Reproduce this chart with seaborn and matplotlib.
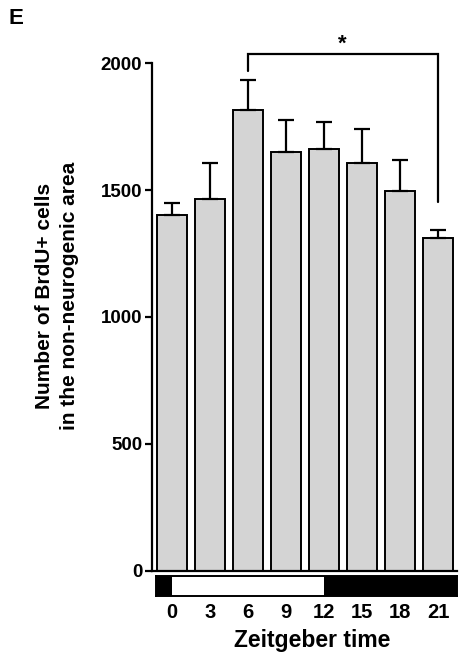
import matplotlib
matplotlib.use("Agg")
import matplotlib.pyplot as plt
import seaborn as sns
import numpy as np
import pandas as pd

# Zeitgeber time points and BrdU+ counts (mean and upper SEM)
zt_labels = ["0", "3", "6", "9", "12", "15", "18", "21"]
mean_cells = [1400, 1465, 1815, 1652, 1662, 1607, 1496, 1313]
sem_cells = [50, 142, 121, 125, 108, 132, 121, 30]

# significance bracket between ZT6 and ZT21
bracket_pair = (2, 7)
bracket_label = "*"

# light/dark schedule shown under the axis (in bar index units)
dark_before = (-0.43, 0.0)
light_phase = (0.0, 4.0)
dark_after = (4.0, 7.5)

sns.set_style("ticks")
plt.rcParams["font.family"] = ["Liberation Sans", "DejaVu Sans"]
plt.rcParams["font.weight"] = "bold"
for key in ["text.color", "axes.labelcolor", "xtick.color", "ytick.color",
            "axes.edgecolor"]:
    plt.rcParams[key] = "black"

W, H = 459, 655
fig = plt.figure(figsize=(W / 100, H / 100), dpi=100)

ax = fig.add_axes([152 / W, 84.5 / H, (457 - 152) / W, (570.5 - 63.3) / H])

df = pd.DataFrame({"zt": zt_labels, "cells": mean_cells})
sns.barplot(data=df, x="zt", y="cells", order=zt_labels, color="#d4d4d4",
            saturation=1, edgecolor="black", linewidth=1.4, errorbar=None,
            width=0.8, ax=ax)

ax.errorbar(np.arange(len(zt_labels)), mean_cells,
            yerr=[np.zeros(len(sem_cells)), sem_cells], fmt="none",
            ecolor="black", elinewidth=1.6, capsize=6, capthick=1.6, zorder=3)

ax.set_xlim(-0.526, 7.5)
ax.set_ylim(0, 2000)
ax.set_yticks([0, 500, 1000, 1500, 2000])
ax.set_xticks([])
ax.set_xlabel("")
ax.set_ylabel("")
for s in ["top", "right"]:
    ax.spines[s].set_visible(False)
for s in ["left", "bottom"]:
    ax.spines[s].set_linewidth(1.6)
    ax.spines[s].set_color("black")
ax.tick_params(axis="y", direction="out", length=5, width=1.6, pad=2,
               labelsize=13.5, colors="black")
for lab in ax.get_yticklabels():
    lab.set_fontweight("bold")

# significance bracket
x0, x1 = bracket_pair
ax.plot([x0, x0, x1, x1], [1968, 2036, 2036, 1455], color="black", lw=1.6,
        clip_on=False, solid_joinstyle="miter")
ax.text((x0 + x1) / 2 - 0.03, 2076, bracket_label, ha="center", va="center",
        fontsize=16, fontweight="bold", clip_on=False)

# light/dark bar
ax2 = fig.add_axes([155.7 / W, (H - 596) / H, (457 - 155.7) / W, 20 / H])
ax2.set_xlim(dark_before[0], dark_after[1])
ax2.set_ylim(0, 1)
ax2.axvspan(*dark_before, color="black", lw=0)
ax2.axvspan(*light_phase, color="white", lw=0)
ax2.axvspan(*dark_after, color="black", lw=0)
for s in ax2.spines.values():
    s.set_visible(True)
    s.set_linewidth(1.4)
    s.set_color("black")
ax2.set_yticks([])
ax2.set_xticks(np.arange(len(zt_labels)))
ax2.set_xticklabels(zt_labels, fontsize=14.5, fontweight="bold")
ax2.tick_params(axis="x", length=0, pad=5, colors="black")

fig.text(312.5 / W, 1 - 646.7 / H, "Zeitgeber time", ha="center",
         va="baseline", fontsize=16.5, fontweight="bold")
fig.text(57 / W, 1 - 296 / H, "Number of BrdU+ cells\nin the non-neurogenic area",
         rotation=90, ha="center", va="center", multialignment="center",
         fontsize=15, fontweight="bold", linespacing=1.45)
fig.text(9 / W, 1 - 24 / H, "E", ha="left", va="baseline", fontsize=16,
         fontweight="bold")

fig.savefig("out.png", dpi=100)
